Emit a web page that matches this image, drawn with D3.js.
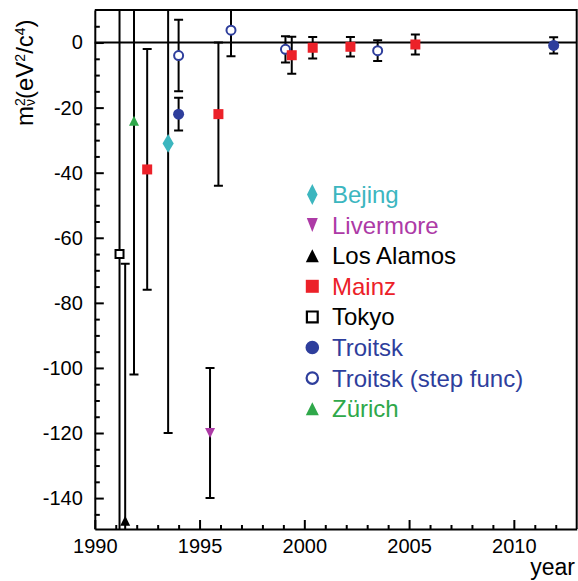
<!DOCTYPE html>
<html>
<head>
<meta charset="utf-8">
<script src="https://cdn.jsdelivr.net/npm/d3@7"></script>
<style>
body{margin:0;background:#fff}
text{font-family:"Liberation Sans",Arial,Helvetica,sans-serif}
</style>
</head>
<body>
<svg id="chart" width="578" height="581"></svg>
<script>
// experiments, legend order
const groups = ["Bejing","Livermore","Los Alamos","Mainz","Tokyo","Troitsk","Troitsk (step func)","Zürich"];
const groupColor = ["#3cb6bf","#ad3aa6","#000000","#ec2129","#000000","#2e3e9c","#2e3e9c","#2fa84a"];
const groupShape = ["diamond","tdown","tup","square","square","circle","circle","tup"];
const groupHollow = [false,false,false,false,true,false,true,false];

const ptGroup = ["Tokyo","Los Alamos","Zürich","Mainz","Bejing","Troitsk (step func)","Troitsk","Livermore","Mainz",
                 "Troitsk (step func)","Troitsk (step func)","Mainz","Mainz","Mainz","Troitsk (step func)","Mainz","Troitsk"];
const ptYear  = [1991.18,1991.45,1991.87,1992.5,1993.5,1994.0,1994.0,1995.5,1995.9,
                 1996.5,1999.1,1999.4,2000.4,2002.2,2003.5,2005.3,2011.9];
const ptValue = [-65,-147,-24,-39,-31,-4,-22,-120,-22,
                 3.8,-2.1,-3.9,-1.6,-1.3,-2.5,-0.6,-0.9];
const ptErr   = [107,79,78,37,89,11,5,20,22,
                 8,4,5.7,3.3,3,3.2,3.1,2.5];

const xTickLabels = [1990,1995,2000,2005,2010];
const yTickLabels = [-140,-120,-100,-80,-60,-40,-20,0];

const svg = d3.select("#chart");
const L = 94.8, R = 576.7, T = 10, B = 529;
const x = d3.scaleLinear().domain([1990, 2013]).range([L, R]);
const y = d3.scaleLinear().domain([-149.5, 10]).range([B, T]);

svg.append("defs").append("clipPath").attr("id","plotclip")
  .append("rect").attr("x",L).attr("y",T).attr("width",R-L).attr("height",B-T);

// frame top/right
svg.append("path").attr("d",`M${L},${T}H${R}V${B}`)
  .attr("fill","none").attr("stroke","#000").attr("stroke-width",2);

// zero line
svg.append("line").attr("x1",L).attr("x2",R).attr("y1",y(0)).attr("y2",y(0))
  .attr("stroke","#000").attr("stroke-width",2);

const pts = ptYear.map((yr,i)=>({yr,v:ptValue[i],e:ptErr[i],g:groups.indexOf(ptGroup[i])}));

// error bars
const eb = svg.append("g").attr("clip-path","url(#plotclip)")
  .attr("stroke","#000").attr("stroke-width",2).attr("fill","none");
eb.selectAll("path").data(pts).join("path")
  .attr("d",d=>{const cx=x(d.yr),y1=y(d.v+d.e),y2=y(d.v-d.e),c=4.5;
    return `M${cx},${y1}V${y2}M${cx-c},${y1}H${cx+c}M${cx-c},${y2}H${cx+c}`;});

const plotDims = {diamond:[5.6,9.4],tdown:[5,5],tup:[5,5],square:[5,5],circle:[5.5,5.5]};
const legDims  = {diamond:[5.3,10.5],tdown:[5.5,7],tup:[6.5,6.5],square:[6.5,6.5],circle:[6.8,6.8]};

function markerPath(shape,w,h){
  if (shape==="diamond") return `M0,${-h}L${w},0L0,${h}L${-w},0Z`;
  if (shape==="tdown") return `M${-w},${-h}L${w},${-h}L0,${h}Z`;
  if (shape==="tup") return `M${-w},${h}L${w},${h}L0,${-h}Z`;
  if (shape==="square") return `M${-w},${-h}H${w}V${h}H${-w}Z`;
  return d3.arc()({innerRadius:0,outerRadius:w,startAngle:0,endAngle:2*Math.PI});
}

function drawMarker(g,gi,dims,sw){
  const sh=groupShape[gi],col=groupColor[gi];
  let [w,h]=dims[sh];
  if (groupHollow[gi]) { w-=sw/2; h-=sw/2;
    g.append("path").attr("d",markerPath(sh,w,h)).attr("fill","#fff")
      .attr("stroke",col).attr("stroke-width",sw);
  } else {
    g.append("path").attr("d",markerPath(sh,w,h)).attr("fill",col);
  }
}

pts.forEach(d=>{
  const g=svg.append("g").attr("transform",`translate(${x(d.yr)},${y(d.v)})`);
  drawMarker(g,d.g,plotDims,2);
});

// axes
const yAxis = d3.axisLeft(y).tickValues(d3.range(-145,10,5))
  .tickSize(-5).tickSizeOuter(0).tickPadding(12)
  .tickFormat(d=>yTickLabels.includes(d)?String(d):"");
const ya = svg.append("g").attr("transform",`translate(${L},0)`).call(yAxis);
ya.selectAll(".tick line").filter(d=>yTickLabels.includes(d)).attr("x2",9);

const xAxis = d3.axisBottom(x).tickValues(d3.range(1990,2013,1))
  .tickSize(-4).tickSizeOuter(0).tickPadding(9.5)
  .tickFormat(d=>xTickLabels.includes(d)?String(d):"");
const xa = svg.append("g").attr("transform",`translate(0,${B})`).call(xAxis);
xa.selectAll(".tick line").filter(d=>xTickLabels.includes(d)).attr("y2",-9);

[ya,xa].forEach(a=>{
  a.select(".domain").attr("stroke-width",2);
  a.selectAll(".tick line").attr("stroke-width",2);
  a.selectAll(".tick text").attr("font-size",20).attr("fill","#000")
    .attr("font-family","'Liberation Sans',Arial,sans-serif");
});

// axis titles
svg.append("text").attr("x",575).attr("y",575).attr("text-anchor","end")
  .attr("font-size",23).text("year");

const yt = svg.append("text").attr("transform","translate(33,126) rotate(-90)").attr("font-size",24);
yt.append("tspan").text("m");
yt.append("tspan").attr("font-size",14).attr("dy",-8).text("2");
yt.append("tspan").attr("font-size",14).attr("dx",-7.8).attr("dy",10).text("ν");
yt.append("tspan").attr("dy",-2).text("(eV");
yt.append("tspan").attr("font-size",14).attr("dy",-8).text("2");
yt.append("tspan").attr("dy",8).text("/c");
yt.append("tspan").attr("font-size",14).attr("dy",-8).text("4");
yt.append("tspan").attr("dy",8).text(")");

// legend
const leg = svg.append("g");
groups.forEach((name,i)=>{
  const cy=194.5+i*30.6;
  const g=leg.append("g").attr("transform",`translate(312.3,${cy})`);
  drawMarker(g,i,legDims,2.2);
  leg.append("text").attr("x",332).attr("y",cy).attr("dy","0.35em")
    .attr("font-size",24).attr("fill",groupColor[i]).text(name);
});
</script>
</body>
</html>
